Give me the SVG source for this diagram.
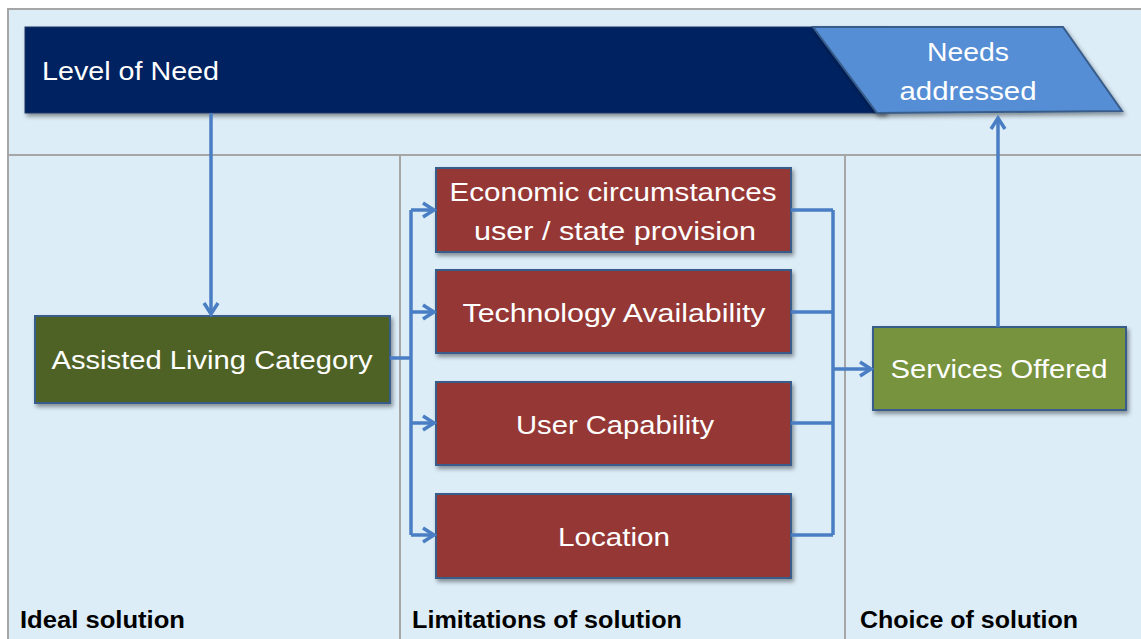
<svg xmlns="http://www.w3.org/2000/svg" width="1141" height="639" viewBox="0 0 1141 639">
<defs>
<style>
.t{font-family:"Liberation Sans",Arial,sans-serif;fill:#ffffff;font-size:25px;}
.lbl{font-family:"Liberation Sans",Arial,sans-serif;fill:#000;font-size:23px;font-weight:bold;}
.red{fill:#953735;stroke:#385d8a;stroke-width:2;}
.grn{stroke:#385d8a;stroke-width:2;}
.con{fill:none;stroke:#4a7ec4;stroke-width:3.5;}
.div{stroke:#a6a6a6;stroke-width:2;}
</style>
<filter id="sh" x="-5%" y="-10%" width="115%" height="130%">
<feDropShadow dx="2" dy="3" stdDeviation="2" flood-color="#000" flood-opacity="0.4"/>
</filter>
<marker id="ah" viewBox="-14 -10 16 20" refX="0" refY="0" markerWidth="16" markerHeight="20" markerUnits="userSpaceOnUse" orient="auto" overflow="visible">
<path d="M-11,-7 L0,0 L-11,7" fill="none" stroke="#4a7ec4" stroke-width="3.5"/>
</marker>
</defs>
<rect x="0" y="0" width="1141" height="639" fill="#ffffff"/>
<rect x="8" y="9" width="1140" height="640" fill="#dcedf8" stroke="#a6a6a6" stroke-width="2"/>
<line class="div" x1="8" y1="155" x2="1141" y2="155"/>
<line class="div" x1="400" y1="155" x2="400" y2="639"/>
<line class="div" x1="845" y1="155" x2="845" y2="639"/>

<g id="level-of-need">
<rect x="25" y="27" width="860" height="86" fill="#002060" stroke="#1f3864" stroke-width="1" filter="url(#sh)"/>
<text class="t" x="42" y="80" textLength="177" lengthAdjust="spacingAndGlyphs">Level of Need</text>
</g>
<g id="needs-addressed">
<polygon points="813,27 1063,27 1122,111 877,113" fill="#558ed5" stroke="#385d8a" stroke-width="2" filter="url(#sh)"/>
<text class="t" x="968" y="61" text-anchor="middle" textLength="82" lengthAdjust="spacingAndGlyphs">Needs</text>
<text class="t" x="968" y="100" text-anchor="middle" textLength="137" lengthAdjust="spacingAndGlyphs">addressed</text>
</g>

<g id="assisted-living">
<rect class="grn" x="35" y="316" width="355" height="87" fill="#4f6228" filter="url(#sh)"/>
<text class="t" x="212" y="369" text-anchor="middle" textLength="321" lengthAdjust="spacingAndGlyphs">Assisted Living Category</text>
</g>

<g id="economic">
<rect class="red" x="436" y="168" width="355" height="84" filter="url(#sh)"/>
<text class="t" x="613" y="201" text-anchor="middle" textLength="327" lengthAdjust="spacingAndGlyphs">Economic circumstances</text>
<text class="t" x="615" y="240" text-anchor="middle" textLength="282" lengthAdjust="spacingAndGlyphs">user / state provision</text>
</g>
<g id="technology">
<rect class="red" x="436" y="270" width="355" height="83" filter="url(#sh)"/>
<text class="t" x="614" y="322" text-anchor="middle" textLength="303" lengthAdjust="spacingAndGlyphs">Technology Availability</text>
</g>
<g id="user-capability">
<rect class="red" x="436" y="382" width="355" height="83" filter="url(#sh)"/>
<text class="t" x="615" y="434" text-anchor="middle" textLength="198" lengthAdjust="spacingAndGlyphs">User Capability</text>
</g>
<g id="location">
<rect class="red" x="436" y="494" width="355" height="84" filter="url(#sh)"/>
<text class="t" x="614" y="546" text-anchor="middle" textLength="112" lengthAdjust="spacingAndGlyphs">Location</text>
</g>

<g id="services-offered">
<rect class="grn" x="873" y="327" width="253" height="83" fill="#77933c" filter="url(#sh)"/>
<text class="t" x="999" y="378" text-anchor="middle" textLength="217" lengthAdjust="spacingAndGlyphs">Services Offered</text>
</g>

<g id="connectors">
<path class="con" d="M211,113 V314" marker-end="url(#ah)"/>
<path class="con" d="M390,358 H411"/>
<path class="con" d="M411,210 V535"/>
<path class="con" d="M411,210 H434" marker-end="url(#ah)"/>
<path class="con" d="M411,312 H434" marker-end="url(#ah)"/>
<path class="con" d="M411,423 H434" marker-end="url(#ah)"/>
<path class="con" d="M411,535 H434" marker-end="url(#ah)"/>
<path class="con" d="M791,210 H833 M791,312 H833 M791,423 H833 M791,535 H833"/>
<path class="con" d="M833,210 V535"/>
<path class="con" d="M833,369 H871" marker-end="url(#ah)"/>
<path class="con" d="M998,327 V118" marker-end="url(#ah)"/>
</g>

<text class="lbl" x="20" y="628" textLength="165" lengthAdjust="spacingAndGlyphs">Ideal solution</text>
<text class="lbl" x="412" y="628" textLength="270" lengthAdjust="spacingAndGlyphs">Limitations of solution</text>
<text class="lbl" x="860" y="628" textLength="218" lengthAdjust="spacingAndGlyphs">Choice of solution</text>
</svg>
